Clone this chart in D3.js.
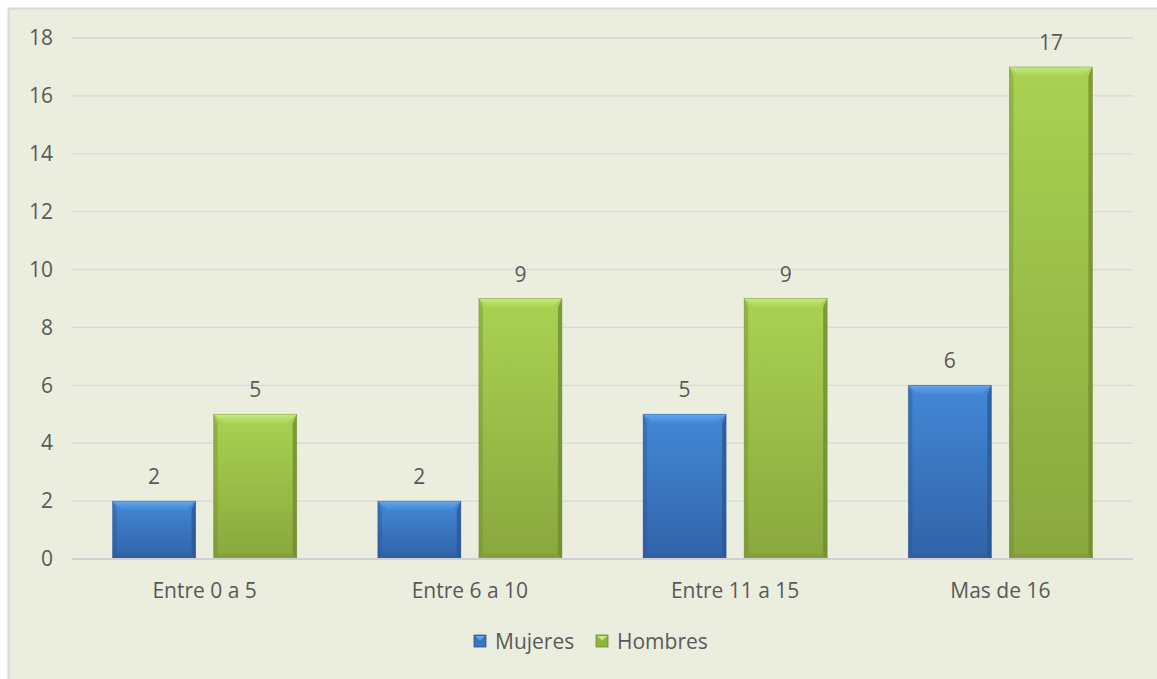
<!DOCTYPE html>
<html>
<head>
<meta charset="utf-8">
<script src="https://cdn.jsdelivr.net/npm/d3@7"></script>
<style>
  html, body { margin: 0; padding: 0; background: #ffffff; }
  svg { display: block; }
  text { font-family: "Open Sans", "Noto Sans", sans-serif; fill: #595959; }
</style>
</head>
<body>
<svg id="chart" width="1157" height="679"></svg>
<script>
// Data
const categories = ["Entre 0 a 5", "Entre 6 a 10", "Entre 11 a 15", "Mas de 16"];
const seriesNames = ["Mujeres", "Hombres"];
const mujeres = [2, 2, 5, 6];
const hombres = [5, 9, 9, 17];
const yTicks = [0, 2, 4, 6, 8, 10, 12, 14, 16, 18];

const W = 1157, H = 679;
const FONT = "21px";
const svg = d3.select("#chart");

// Colour themes for each series: main gradient, bevel highlights, edges
const themes = [
  { top: "#4388d6", bottom: "#3163a8", bevelTop: "#65a6ec", edge: "#2a5593", bevelBottom: "#2d5c9c", legend: "#3a74c0" },
  { top: "#a9d252", bottom: "#89a73e", bevelTop: "#c8e87f", edge: "#6e8a2c", bevelBottom: "#7c9736", legend: "#8fb43f" }
];

// Chart area background and frame
svg.append("rect")
  .attr("x", 8.5).attr("y", 8.5)
  .attr("width", W).attr("height", H)
  .attr("fill", "#ebeedf")
  .attr("stroke", "#d9d9d9").attr("stroke-width", 2);

const plot = { left: 72, right: 1133, top: 38, bottom: 559 };

const x0 = d3.scaleBand()
  .domain(categories)
  .range([plot.left, plot.right])
  .paddingInner(0)
  .paddingOuter(0);

const band = x0.bandwidth();
const barW = band * 0.313;
const innerGap = band * 0.068;
const outer = (band - 2 * barW - innerGap) / 2;

const y = d3.scaleLinear().domain([0, 18]).range([plot.bottom, plot.top]);

// Gridlines
const grid = svg.append("g");
grid.selectAll("line")
  .data(yTicks.filter(t => t > 0))
  .join("line")
  .attr("x1", plot.left).attr("x2", plot.right)
  .attr("y1", d => y(d)).attr("y2", d => y(d))
  .attr("stroke", "#d9d9d9").attr("stroke-width", 1.3);

// Y axis labels
const yAxis = d3.axisLeft(y).tickValues(yTicks).tickSize(0).tickPadding(0);
const yg = svg.append("g").attr("transform", `translate(${53},0)`).call(yAxis);
yg.select(".domain").remove();
yg.selectAll("text")
  .style("font-size", FONT)
  .style("font-family", "'Open Sans', sans-serif")
  .attr("fill", "#595959");

// Gradients
const defs = svg.append("defs");
themes.forEach((t, i) => {
  const g = defs.append("linearGradient").attr("id", "grad" + i)
    .attr("x1", 0).attr("y1", 0).attr("x2", 0).attr("y2", 1);
  g.append("stop").attr("offset", "0%").attr("stop-color", t.top);
  g.append("stop").attr("offset", "100%").attr("stop-color", t.bottom);
  const b = defs.append("linearGradient").attr("id", "bevel" + i)
    .attr("x1", 0).attr("y1", 0).attr("x2", 0).attr("y2", 1);
  b.append("stop").attr("offset", "0%").attr("stop-color", t.bevelTop);
  b.append("stop").attr("offset", "100%").attr("stop-color", t.top);
});

// Bars with bevelled edges
const rows = [];
categories.forEach((c, ci) => {
  [mujeres[ci], hombres[ci]].forEach((v, si) => {
    rows.push({ c, si, v, x: x0(c) + outer + si * (barW + innerGap) });
  });
});

const bars = svg.append("g").selectAll("g.bar").data(rows).join("g").attr("class", "bar");

bars.each(function(d) {
  const g = d3.select(this);
  const t = themes[d.si];
  const x1 = d.x, x2 = d.x + barW;
  const yt = y(d.v), yb = y(0);
  const bv = 9, side = 4, bot = 5;
  g.append("rect")
    .attr("x", x1).attr("y", yt).attr("width", barW).attr("height", yb - yt)
    .attr("fill", `url(#grad${d.si})`);
  // left edge
  g.append("polygon")
    .attr("points", [[x1, yt], [x1 + side, yt + bv], [x1 + side, yb - bot], [x1, yb]].join(" "))
    .attr("fill", t.edge).attr("opacity", 0.4);
  // right edge
  g.append("polygon")
    .attr("points", [[x2, yt], [x2 - side, yt + bv], [x2 - side, yb - bot], [x2, yb]].join(" "))
    .attr("fill", t.edge).attr("opacity", 0.75);
  // bottom edge
  g.append("polygon")
    .attr("points", [[x1, yb], [x1 + side, yb - bot], [x2 - side, yb - bot], [x2, yb]].join(" "))
    .attr("fill", t.bevelBottom).attr("opacity", 0.5);
  // top bevel
  g.append("polygon")
    .attr("points", [[x1, yt], [x2, yt], [x2 - side * 2.5, yt + bv], [x1 + side * 2.5, yt + bv]].join(" "))
    .attr("fill", `url(#bevel${d.si})`);
  g.append("rect")
    .attr("x", x1).attr("y", yt).attr("width", barW).attr("height", yb - yt)
    .attr("fill", "none").attr("stroke", t.edge).attr("stroke-width", 0.8).attr("opacity", 0.5);
});

// Value labels
svg.append("g").selectAll("text").data(rows).join("text")
  .attr("x", d => d.x + barW / 2)
  .attr("y", d => y(d.v) - 17)
  .attr("text-anchor", "middle")
  .style("font-size", FONT)
  .text(d => d.v);

// Baseline
svg.append("line")
  .attr("x1", plot.left).attr("x2", plot.right)
  .attr("y1", y(0)).attr("y2", y(0))
  .attr("stroke", "#d0d0d0").attr("stroke-width", 2);

// X axis labels
const xAxis = d3.axisBottom(x0).tickSize(0).tickPadding(0);
const xg = svg.append("g").attr("transform", `translate(0,${598})`).call(xAxis);
xg.select(".domain").remove();
xg.selectAll("text")
  .attr("dy", 0)
  .style("font-size", FONT)
  .style("font-family", "'Open Sans', sans-serif")
  .attr("fill", "#595959");

// Legend
const legend = svg.append("g");
const legendItems = [
  { name: seriesNames[0], x: 474 },
  { name: seriesNames[1], x: 596 }
];
legendItems.forEach((it, i) => {
  const t = themes[i];
  const g = legend.append("g").attr("transform", `translate(${it.x},635)`);
  g.append("rect").attr("width", 12).attr("height", 12).attr("fill", t.legend)
    .attr("stroke", t.edge).attr("stroke-width", 0.8);
  g.append("polygon").attr("points", "1,1 11,1 6,5.5").attr("fill", t.bevelTop);
  g.append("text").attr("x", 21).attr("y", 13.5)
    .style("font-size", FONT)
    .text(it.name);
});
</script>
</body>
</html>
